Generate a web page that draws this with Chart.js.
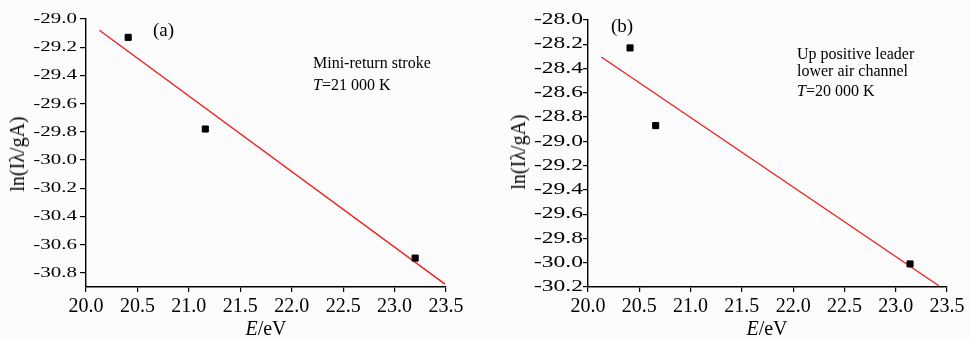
<!DOCTYPE html>
<html>
<head>
<meta charset="utf-8">
<script src="https://cdn.jsdelivr.net/npm/chart.js@4.4.1/dist/chart.umd.min.js"></script>
<style>
  body { margin: 0; background: #fcfcfc; }
  #wrap { position: relative; width: 970px; height: 340px; font-family: "Liberation Serif", "Times New Roman", serif; color: #000; }
  .panel { position: absolute; top: 0; width: 485px; height: 340px; }
  .txt { position: absolute; white-space: nowrap; line-height: 16px; font-size: 16px; }
  .big { font-size: 19px; line-height: 19px; }
  .ytitle { position: absolute; font-size: 20px; line-height: 20px; white-space: nowrap; transform: translate(-50%, -50%) rotate(-90deg); }
  .xtitle { position: absolute; font-size: 20px; line-height: 20px; white-space: nowrap; transform: translateX(-50%); }
</style>
</head>
<body>
<div id="wrap">
  <div class="panel" style="left:0"><canvas id="chartA" width="485" height="340"></canvas></div>
  <div class="panel" style="left:485px"><canvas id="chartB" width="485" height="340"></canvas></div>

  <div class="ytitle" style="left:17px;top:154px">ln(Iλ/gA)</div>
  <div class="ytitle" style="left:518px;top:152px">ln(Iλ/gA)</div>
  <div class="xtitle" style="left:266px;top:318px"><i>E</i>/eV</div>
  <div class="xtitle" style="left:767px;top:318px"><i>E</i>/eV</div>

  <div class="txt big" style="left:153px;top:20px">(a)</div>
  <div class="txt" style="left:313px;top:55px">Mini-return stroke</div>
  <div class="txt" style="left:313px;top:77px"><i>T</i>=21 000 K</div>

  <div class="txt big" style="left:611px;top:16px">(b)</div>
  <div class="txt" style="left:797px;top:46px">Up positive leader</div>
  <div class="txt" style="left:797px;top:63px">lower air channel</div>
  <div class="txt" style="left:797px;top:83px"><i>T</i>=20 000 K</div>
</div>

<script>
// ---- data ----
const xTicks = [20.0, 20.5, 21.0, 21.5, 22.0, 22.5, 23.0, 23.5];

// (a) mini-return stroke
const energyA = [20.41, 21.16, 23.20];
const lnA = [-29.13, -29.78, -30.695];
const fitEnergyA = [20.13, 23.49];
const fitLnA = [-29.08, -30.88];
const yTicksA = [-29.0, -29.2, -29.4, -29.6, -29.8, -30.0, -30.2, -30.4, -30.6, -30.8];

// (b) up positive leader, lower air channel
const energyB = [20.41, 20.66, 23.14];
const lnB = [-28.23, -28.87, -30.01];
const fitEnergyB = [20.13, 23.42];
const fitLnB = [-28.305, -30.19];
const yTicksB = [-28.0, -28.2, -28.4, -28.6, -28.8, -29.0, -29.2, -29.4, -29.6, -29.8, -30.0, -30.2];

const FONT = '"Liberation Serif", "Times New Roman", serif';

// y tick labels in the figure are drawn wide, so stretch them sideways
const stretchY = {
  id: 'stretchY',
  afterDraw(chart, args, o) {
    const s = chart.scales.y;
    const ctx = chart.ctx;
    ctx.save();
    ctx.font = o.size + 'px ' + FONT;
    ctx.fillStyle = '#000';
    ctx.textAlign = 'right';
    ctx.textBaseline = 'middle';
    s.ticks.forEach(t => {
      ctx.save();
      ctx.translate(s.right - o.gap, s.getPixelForValue(t.value));
      ctx.scale(o.sx, 1);
      ctx.fillText(t.value.toFixed(1), 0, 0);
      ctx.restore();
    });
    ctx.restore();
  }
};

function makePanel(id, p) {
  return new Chart(document.getElementById(id), {
    type: 'scatter',
    data: {
      datasets: [
        {
          data: p.energy.map((e, i) => ({ x: e, y: p.ln[i] })),
          pointStyle: 'rect',
          pointRadius: 4.3,
          backgroundColor: '#000',
          borderColor: '#000',
          borderWidth: 1
        },
        {
          data: p.fitE.map((e, i) => ({ x: e, y: p.fitLn[i] })),
          showLine: true,
          borderColor: '#ee2020',
          borderWidth: 1.4,
          pointRadius: 0
        }
      ]
    },
    options: {
      responsive: false,
      animation: false,
      layout: { padding: { left: 0, top: p.top, right: p.right, bottom: 23 } },
      plugins: {
        legend: { display: false },
        tooltip: { enabled: false },
        stretchY: p.stretch
      },
      scales: {
        x: {
          type: 'linear',
          min: 20, max: 23.5,
          afterBuildTicks: s => { s.ticks = xTicks.map(v => ({ value: v })); },
          afterFit: s => { s.height = 30; },
          ticks: {
            color: '#000', font: { family: FONT, size: 20 }, padding: 3,
            maxRotation: 0, autoSkip: false,
            callback: v => v.toFixed(1)
          },
          grid: { drawOnChartArea: false, color: '#000', tickLength: 5, lineWidth: 1.2 },
          border: { color: '#000', width: 1.4 }
        },
        y: {
          type: 'linear',
          min: p.ymin, max: p.ymax,
          afterBuildTicks: s => { s.ticks = p.yTicks.map(v => ({ value: v })); },
          afterFit: s => { s.width = p.left; },
          ticks: { display: false },
          grid: { drawOnChartArea: false, color: '#000', tickLength: p.tick, lineWidth: 1.2 },
          border: { color: '#000', width: 1.4 }
        }
      }
    },
    plugins: [stretchY]
  });
}

Promise.all([
  document.fonts.load('20px "Liberation Serif"'),
  document.fonts.load('italic 20px "Liberation Serif"')
]).catch(() => {}).then(() => {
  makePanel('chartA', {
    energy: energyA, ln: lnA, fitE: fitEnergyA, fitLn: fitLnA, yTicks: yTicksA,
    ymin: -30.9, ymax: -29.0, left: 86, top: 19, right: 39, tick: 6,
    stretch: { size: 15, sx: 1.4, gap: 9 }
  });
  makePanel('chartB', {
    energy: energyB, ln: lnB, fitE: fitEnergyB, fitLn: fitLnB, yTicks: yTicksB,
    ymin: -30.2, ymax: -28.0, left: 103, top: 20, right: 23, tick: 5,
    stretch: { size: 16, sx: 1.47, gap: 5 }
  });
});
</script>
</body>
</html>
